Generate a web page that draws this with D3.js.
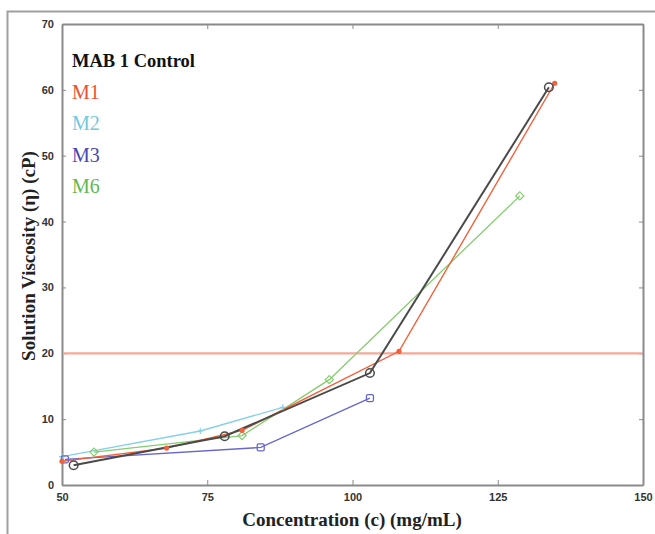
<!DOCTYPE html>
<html>
<head>
<meta charset="utf-8">
<script src="https://cdn.jsdelivr.net/npm/d3@7"></script>
<style>
  body { margin: 0; background: #fff; }
  text { font-family: "Liberation Serif", "DejaVu Serif", serif; }
  .tick text { font-family: "Liberation Sans", Arial, sans-serif; font-weight: bold; font-size: 11px; fill: #333; }
</style>
</head>
<body>
<svg id="chart" width="655" height="534"></svg>
<script>
// data
var control = [[52, 3.0], [78, 7.4], [103, 17.0], [133.8, 60.4]];
var m1 = [[50, 3.6], [68, 5.6], [81, 8.3], [108, 20.3], [134.8, 61.0]];
var m2 = [[50, 4.3], [73.8, 8.2], [88, 11.8]];
var m3 = [[50.5, 3.9], [84.2, 5.7], [103, 13.2]];
var m6 = [[55.5, 5.0], [81, 7.5], [96, 16.0], [128.8, 43.9]];
var threshold = 20;

var xTicks = [50, 75, 100, 125, 150];
var yTicks = [0, 10, 20, 30, 40, 50, 60, 70];

var legendNames = ["MAB 1 Control", "M1", "M2", "M3", "M6"];
var color = {"control": "#4a4a4a", "m1": "#f2603c", "m2": "#86d0e6", "m3": "#6666cc", "m6": "#84cc70", "limit": "#f7a797"};
var legendColors = ["#111", "#f0502d", "#72c8de", "#4848b0", "#62b84e"];

var svg = d3.select("#chart");

// outer frame
svg.append("path").attr("d", "M7.5,534 V11.5 H655").attr("fill", "none")
  .attr("stroke", "#a0a0a0").attr("stroke-width", 2);

var plotLeft = 62, plotRight = 643, plotTop = 24, plotBottom = 485;
var x = d3.scaleLinear().domain([50, 150]).range([plotLeft, plotRight]);
var y = d3.scaleLinear().domain([0, 70]).range([plotBottom, plotTop]);

// axes, ticks inward
var axB = svg.append("g").attr("transform", "translate(0," + plotBottom + ")")
  .call(d3.axisBottom(x).tickValues(xTicks).tickSizeInner(-5).tickSizeOuter(0).tickPadding(8));
var axT = svg.append("g").attr("transform", "translate(0," + plotTop + ")")
  .call(d3.axisTop(x).tickValues(xTicks).tickSizeInner(-5).tickSizeOuter(0).tickFormat(""));
var axL = svg.append("g").attr("transform", "translate(" + plotLeft + ",0)")
  .call(d3.axisLeft(y).tickValues(yTicks).tickSizeInner(-4).tickSizeOuter(0).tickPadding(8));
var axR = svg.append("g").attr("transform", "translate(" + plotRight + ",0)")
  .call(d3.axisRight(y).tickValues(yTicks).tickSizeInner(-4).tickSizeOuter(0).tickFormat(""));

[axB, axT, axL, axR].forEach(function(a) {
  a.select(".domain").attr("stroke", "#8a8a8a").attr("stroke-width", 2);
  a.selectAll(".tick line").attr("stroke", "#8a8a8a");
});

// threshold
svg.append("line").attr("x1", x(50) + 1).attr("x2", x(150) - 1)
  .attr("y1", y(threshold)).attr("y2", y(threshold))
  .attr("stroke", color["limit"]).attr("stroke-width", 2.2);

var line = d3.line().x(function(d) { return x(d[0]); }).y(function(d) { return y(d[1]); });

function plot_series(data, c, w) {
  svg.append("path").datum(data).attr("d", line)
    .attr("fill", "none").attr("stroke", c).attr("stroke-width", w);
}

plot_series(m2, color["m2"], 1.3);
plot_series(m6, color["m6"], 1.3);
plot_series(m3, color["m3"], 1.3);
plot_series(m1, color["m1"], 1.4);
plot_series(control, color["control"], 2);

// markers
var g = svg.append("g");
g.selectAll(".m2").data(m2).enter().append("path")
  .attr("d", function(d) { var px = x(d[0]), py = y(d[1]);
    return "M" + (px - 3) + "," + py + "H" + (px + 3) + "M" + px + "," + (py - 3) + "V" + (py + 3); })
  .attr("stroke", color["m2"]).attr("stroke-width", 1.2);
g.selectAll(".m6").data(m6).enter().append("path")
  .attr("d", function(d) { var px = x(d[0]), py = y(d[1]);
    return "M" + px + "," + (py - 4) + "L" + (px + 4) + "," + py + "L" + px + "," + (py + 4) + "L" + (px - 4) + "," + py + "Z"; })
  .attr("fill", "none").attr("stroke", color["m6"]).attr("stroke-width", 1.2);
g.selectAll(".m3").data(m3).enter().append("rect")
  .attr("x", function(d) { return x(d[0]) - 3.5; }).attr("y", function(d) { return y(d[1]) - 3.5; })
  .attr("width", 7).attr("height", 7).attr("rx", 1.5)
  .attr("fill", "none").attr("stroke", color["m3"]).attr("stroke-width", 1.3);
g.selectAll(".m1").data(m1).enter().append("circle")
  .attr("cx", function(d) { return x(d[0]); }).attr("cy", function(d) { return y(d[1]); })
  .attr("r", 2.6).attr("fill", color["m1"]);
g.selectAll(".ctl").data(control).enter().append("circle")
  .attr("cx", function(d) { return x(d[0]); }).attr("cy", function(d) { return y(d[1]); })
  .attr("r", 4.3).attr("fill", "none").attr("stroke", color["control"]).attr("stroke-width", 1.5);

// legend as text
svg.selectAll(".leg").data(legendNames).enter().append("text")
  .attr("x", 72).attr("y", function(d, i) { return 67 + i * 31.5; })
  .attr("font-size", function(d, i) { return i == 0 ? 18.5 : 20; })
  .attr("font-weight", function(d, i) { return i == 0 ? "bold" : "normal"; })
  .attr("fill", function(d, i) { return legendColors[i]; })
  .text(function(d) { return d; });

// axis titles
svg.append("text").attr("x", 352).attr("y", 526).attr("text-anchor", "middle")
  .attr("font-size", 19).attr("font-weight", "bold").attr("fill", "#222")
  .text("Concentration (c) (mg/mL)");
svg.append("text").attr("transform", "translate(35,256) rotate(-90)").attr("text-anchor", "middle")
  .attr("font-size", 19).attr("font-weight", "bold").attr("fill", "#222")
  .text("Solution Viscosity (η) (cP)");
</script>
</body>
</html>
